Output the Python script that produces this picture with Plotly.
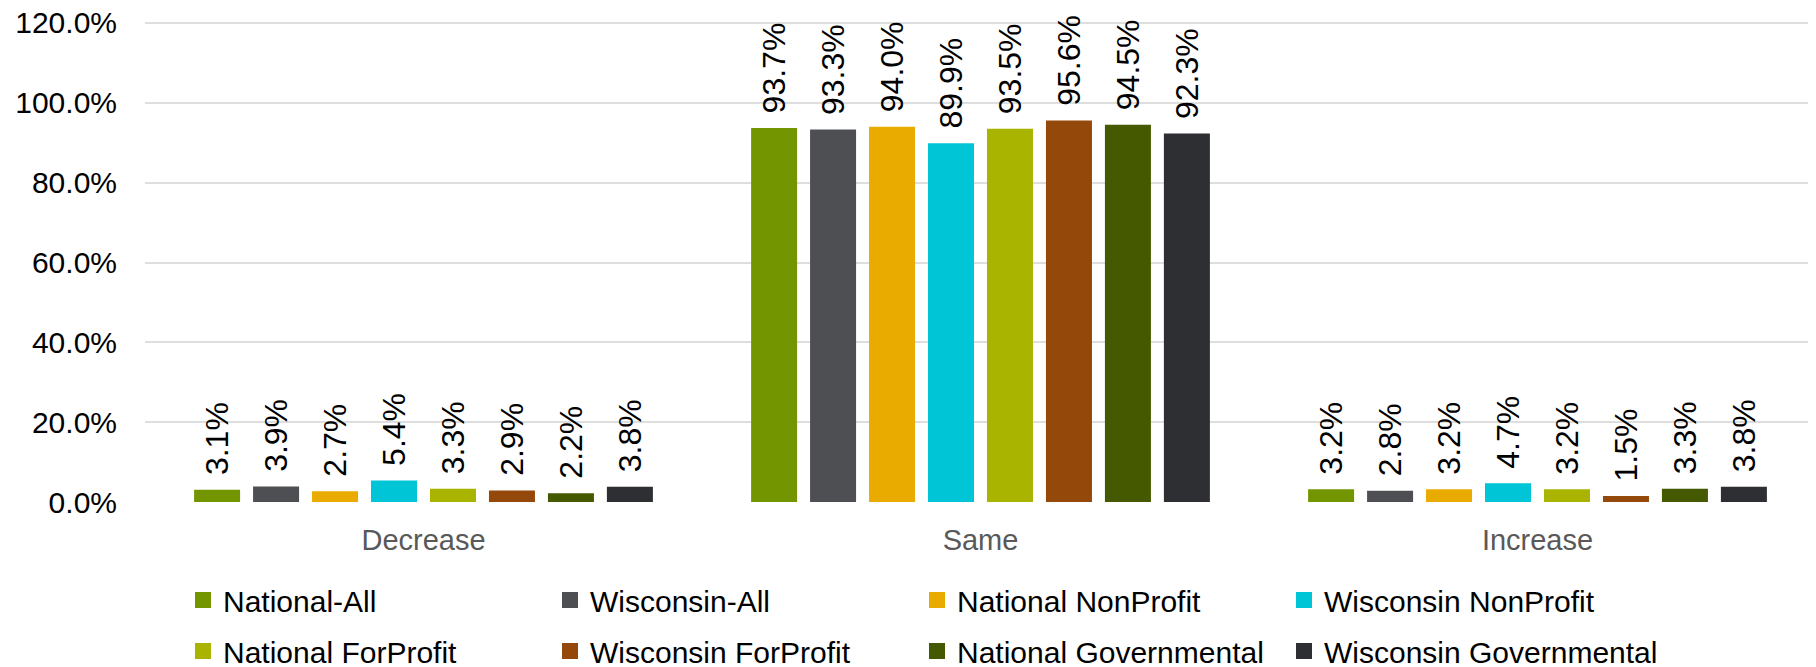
import plotly.graph_objects as go

categories = ["Decrease", "Same", "Increase"]

series_names = [
    "National-All", "Wisconsin-All", "National NonProfit", "Wisconsin NonProfit",
    "National ForProfit", "Wisconsin ForProfit", "National Governmental", "Wisconsin Governmental",
]

national_all = [3.1, 93.7, 3.2]
wisconsin_all = [3.9, 93.3, 2.8]
national_nonprofit = [2.7, 94.0, 3.2]
wisconsin_nonprofit = [5.4, 89.9, 4.7]
national_forprofit = [3.3, 93.5, 3.2]
wisconsin_forprofit = [2.9, 95.6, 1.5]
national_governmental = [2.2, 94.5, 3.3]
wisconsin_governmental = [3.8, 92.3, 3.8]

series_values = [
    national_all, wisconsin_all, national_nonprofit, wisconsin_nonprofit,
    national_forprofit, wisconsin_forprofit, national_governmental, wisconsin_governmental,
]

colors = ["#739600", "#4D4F53", "#E9AB00", "#00C5D7",
          "#A8B400", "#94490A", "#455A00", "#2E2F33"]

y_ticks = [0, 20, 40, 60, 80, 100, 120]
y_ticktext = [f"{v:.1f}%" for v in y_ticks]

FONT = "Liberation Sans, Arial, sans-serif"
legend_ids = ["legend"] + [f"legend{k}" for k in range(2, 9)]

fig = go.Figure()
for i, (name, vals, col) in enumerate(zip(series_names, series_values, colors)):
    fig.add_trace(go.Bar(
        name=name,
        x=categories,
        y=vals,
        marker=dict(color=col, line=dict(width=0)),
        texttemplate="\u00a0\u200a%{y:.1f}%",
        textposition="outside",
        textangle=-90,
        textfont=dict(family=FONT, size=32, color="#000000"),
        constraintext="none",
        cliponaxis=False,
        showlegend=False,
        legendgroup=name,
    ))
# legend entries with larger square swatches
for i, (name, col) in enumerate(zip(series_names, colors)):
    fig.add_trace(go.Scatter(
        name=name,
        x=[None],
        y=[None],
        mode="markers",
        marker=dict(symbol="square", size=16, color=col),
        showlegend=True,
        legendgroup=name,
        legend=legend_ids[i],
        hoverinfo="skip",
    ))

# page body adds an 8px offset, so the figure is 8px smaller and shifted
W, H = 1808, 659
L, R, T, B = 137, 0, 11, 165
plot_w = W - L - R
plot_h = H - T - B
col_px = [175, 542, 909, 1276]
row_px = [592, 643]

legend_common = dict(
    orientation="v",
    xanchor="left",
    yanchor="middle",
    itemsizing="trace",
    font=dict(family=FONT, size=30, color="#000000"),
    bgcolor="rgba(0,0,0,0)",
)

legend_layouts = {}
for i, lid in enumerate(legend_ids):
    cx = col_px[i % 4]
    ry = row_px[i // 4]
    legend_layouts[lid] = dict(
        legend_common,
        x=(cx - L) / plot_w,
        y=(H - B - ry) / plot_h,
    )

fig.update_layout(
    width=W,
    height=H,
    margin=dict(l=L, r=R, t=T, b=B, autoexpand=False),
    paper_bgcolor="white",
    plot_bgcolor="white",
    barmode="group",
    bargap=0.153,
    bargroupgap=0.22,
    showlegend=True,
    font=dict(family=FONT),
    xaxis=dict(
        showgrid=False,
        showline=False,
        zeroline=False,
        automargin=False,
        tickfont=dict(family=FONT, size=29, color="#595959"),
        ticklabelstandoff=18,
    ),
    yaxis=dict(
        range=[0, 121],
        tickmode="array",
        tickvals=y_ticks,
        ticktext=y_ticktext,
        showgrid=True,
        gridcolor="#dedede",
        gridwidth=1.5,
        zeroline=False,
        showline=False,
        automargin=False,
        ticklabeloverflow="allow",
        tickfont=dict(family=FONT, size=30, color="#000000"),
        ticklabelstandoff=27,
    ),
    **legend_layouts,
)

fig.write_html("out.html")
